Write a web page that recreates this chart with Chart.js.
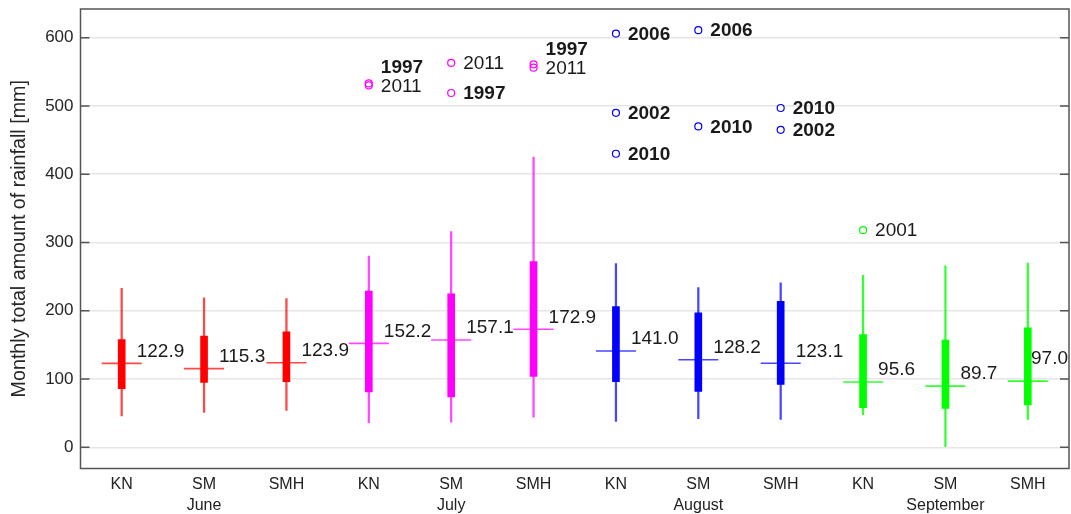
<!DOCTYPE html>
<html><head><meta charset="utf-8">
<script src="https://cdn.jsdelivr.net/npm/chart.js@4.4.0/dist/chart.umd.min.js"></script>
<style>html,body{margin:0;padding:0;background:#fff}</style>
</head><body>
<canvas id="c" width="1071" height="514"></canvas>
<script>
// ---- data ----
const stations = ['KN','SM','SMH','KN','SM','SMH','KN','SM','SMH','KN','SM','SMH'];
const months = ['June','July','August','September'];
const whiskerLow  = [46, 51, 54, 36, 37, 44, 38, 42, 41, 48, 0, 41];
const whiskerHigh = [233, 219, 218, 280, 316, 425, 269, 234, 241, 252, 266, 270];
const q1 = [86, 95, 96, 81, 74, 104, 96, 82, 92, 58, 57, 62];
const q3 = [158, 163, 169, 229, 225, 272, 206, 197, 214, 165, 157, 175];
const medians = [122.9, 115.3, 123.9, 152.2, 157.1, 172.9, 141.0, 128.2, 123.1, 95.6, 89.7, 97.0];
const outlierA      = [null, null, null, 530, 563, 556, 606, 611, 497, 318, null, null];
const outlierALabel = ['', '', '', '2011', '2011', '2011', '2006', '2006', '2010', '2001', '', ''];
const outlierB      = [null, null, null, 533, 519, 561, 490, 470, 465, null, null, null];
const outlierBLabel = ['', '', '', '1997', '1997', '1997', '2002', '2010', '2002', '', '', ''];
const outlierC      = [null, null, null, null, null, null, 430, null, null, null, null, null];
const outlierCLabel = ['', '', '', '', '', '', '2010', '', '', '', '', ''];
const boldYears = ['1997', '2002', '2006', '2010'];
const yTicks = [0, 100, 200, 300, 400, 500, 600];
const monthColors = ['#ff0000', '#ff00ff', '#0000ff', '#00ff00'];
const monthColorsLight = ['rgba(255,0,0,0.72)', 'rgba(255,0,255,0.72)', 'rgba(0,0,255,0.72)', 'rgba(0,255,0,0.8)'];

// ---- derived ----
const colorOf = i => monthColors[Math.floor(i / 3)];
const lightOf = i => monthColorsLight[Math.floor(i / 3)];
const labels = stations.map((s, i) => [s, i % 3 === 1 ? months[Math.floor(i / 3)] : '']);
const FONT = '"Liberation Sans", Arial, Helvetica, sans-serif';

const outlierSets = [
  {values: outlierA, names: outlierALabel},
  {values: outlierB, names: outlierBLabel},
  {values: outlierC, names: outlierCLabel}
];

const annotate = {
  id: 'annotate',
  afterDraw(chart) {
    const ctx = chart.ctx;
    const a = chart.chartArea;
    const xs = chart.scales.x, ys = chart.scales.y;
    ctx.save();
    // frame
    ctx.strokeStyle = '#555555';
    ctx.lineWidth = 1.5;
    ctx.strokeRect(a.left, a.top, a.right - a.left, a.bottom - a.top);
    // inner ticks
    yTicks.forEach(v => {
      const y = ys.getPixelForValue(v);
      ctx.beginPath();
      ctx.moveTo(a.left, y); ctx.lineTo(a.left + 9, y);
      ctx.moveTo(a.right, y); ctx.lineTo(a.right - 9, y);
      ctx.stroke();
    });
    // median labels
    ctx.fillStyle = '#1a1a1a';
    ctx.textBaseline = 'middle';
    ctx.textAlign = 'left';
    ctx.font = '19px ' + FONT;
    medians.forEach((m, i) => {
      const t = m.toFixed(1);
      const w = ctx.measureText(t).width;
      let x = xs.getPixelForValue(i) + 15;
      let y = ys.getPixelForValue(m) - 12;
      if (x + w > a.right - 1) { x = a.right - w - 1; y -= 10; }
      ctx.fillText(t, x, y);
    });
    // outlier labels
    for (let i = 0; i < stations.length; i++) {
      const items = [];
      outlierSets.forEach(s => {
        if (s.values[i] !== null) items.push({y: ys.getPixelForValue(s.values[i]), name: s.names[i]});
      });
      items.sort((p, q) => p.y - q.y);
      for (let k = items.length - 2; k >= 0; k--) {
        if (items[k].y > items[k + 1].y - 17) items[k].y = items[k + 1].y - 19;
      }
      const x = xs.getPixelForValue(i) + 12;
      items.forEach(it => {
        ctx.font = (boldYears.includes(it.name) ? 'bold ' : '') + '19px ' + FONT;
        ctx.fillText(it.name, x, it.y + 1);
      });
    }
    ctx.restore();
  }
};

const datasets = [
  {
    type: 'bar', label: 'whisker', order: 3, grouped: false,
    data: whiskerLow.map((l, i) => [l, whiskerHigh[i]]),
    backgroundColor: stations.map((s, i) => lightOf(i)),
    barThickness: 1.6
  },
  {
    type: 'bar', label: 'box', order: 2, grouped: false,
    data: q1.map((l, i) => [l, q3[i]]),
    backgroundColor: stations.map((s, i) => colorOf(i)),
    barThickness: 7
  },
  {
    type: 'line', label: 'median', order: 1, showLine: false,
    data: medians,
    pointStyle: 'line', pointRadius: 20, pointBorderWidth: 1.6,
    pointBorderColor: stations.map((s, i) => lightOf(i)),
    pointBackgroundColor: stations.map((s, i) => lightOf(i))
  }
];
outlierSets.forEach((s, k) => {
  datasets.push({
    type: 'line', label: 'outlier' + k, order: 0, showLine: false,
    data: s.values,
    pointStyle: 'circle', pointRadius: 3.5, pointBorderWidth: 1.2,
    pointBorderColor: stations.map((st, i) => colorOf(i)),
    pointBackgroundColor: 'rgba(0,0,0,0)'
  });
});

function zeroPad(s) {
  s.paddingTop = 0; s.paddingBottom = 0; s.paddingLeft = 0; s.paddingRight = 0;
}

new Chart(document.getElementById('c'), {
  type: 'bar',
  data: {labels, datasets},
  plugins: [annotate],
  options: {
    responsive: false,
    animation: false,
    events: [],
    devicePixelRatio: 1,
    layout: {autoPadding: false, padding: {top: 9, right: 2, left: 0, bottom: 0}},
    plugins: {legend: {display: false}, tooltip: {enabled: false}},
    scales: {
      x: {
        grid: {display: false, drawTicks: false},
        border: {display: false},
        ticks: {
          autoSkip: false, maxRotation: 0, padding: 5,
          color: '#222222',
          font: {family: FONT, size: 16, lineHeight: 1.33}
        },
        afterFit: s => { s.height = 45.5; zeroPad(s); }
      },
      y: {
        min: -31, max: 642,
        afterBuildTicks: s => { s.ticks = yTicks.map(v => ({value: v})); },
        grid: {color: '#e6e6e6', lineWidth: 1.5, drawTicks: false},
        border: {display: false},
        ticks: {color: '#262626', padding: 7, font: {family: FONT, size: 17}},
        title: {
          display: true, text: 'Monthly total amount of rainfall [mm]',
          color: '#262626', font: {family: FONT, size: 19.7},
          padding: {top: 8, bottom: 0}
        },
        afterFit: s => { s.width = 80.5; zeroPad(s); }
      }
    }
  }
});
</script>
</body></html>
